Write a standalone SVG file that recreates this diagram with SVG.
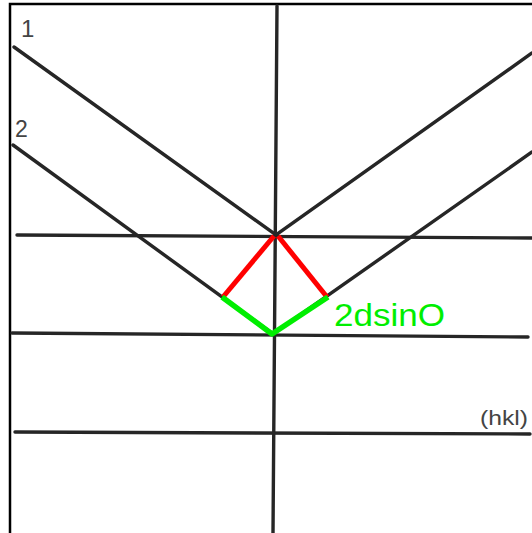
<svg xmlns="http://www.w3.org/2000/svg" width="532" height="533" viewBox="0 0 532 533">
<style>
.ln{stroke:#262626;stroke-width:3.4;fill:none;stroke-linecap:round}
.frame{stroke:#000;stroke-width:2.5;fill:none}
.red{stroke:#ff0000;stroke-width:5;fill:none}
.green{stroke:#00ee00;stroke-width:5.5;fill:none;stroke-linejoin:round}
.lbl{font-family:"Liberation Sans",Arial,sans-serif;fill:#444}
</style>
<rect width="532" height="533" fill="#fff"/>
<path class="frame" d="M10,533 V4 H532"/>
<g id="connectors">
<line class="ln" x1="277" y1="6" x2="273" y2="533"/>
<line class="ln" x1="17" y1="235" x2="532" y2="238"/>
<line class="ln" x1="12" y1="333" x2="528" y2="337"/>
<line class="ln" x1="15" y1="432" x2="530" y2="434"/>
<polyline class="ln" points="14,47 276,235 532,53"/>
<polyline class="ln" points="13,145 273,334 532,152"/>
<polyline class="red" points="223,297 274,236"/>
<polyline class="red" points="278,236 327,297"/>
<polyline class="green" points="222,297 272,334 328,297"/>
</g>
<g id="label1"><text class="lbl" x="21" y="37" font-size="24">1</text></g>
<g id="label2"><text class="lbl" x="15" y="137" font-size="23">2</text></g>
<g id="formula"><text x="334" y="326" font-family="'Liberation Sans',Arial,sans-serif" font-size="32" fill="#00ee00" textLength="111" lengthAdjust="spacingAndGlyphs">2dsinO</text></g>
<g id="hkl"><text class="lbl" x="480" y="425" font-size="21" textLength="48" lengthAdjust="spacingAndGlyphs" fill="#333">(hkl)</text></g>
</svg>
